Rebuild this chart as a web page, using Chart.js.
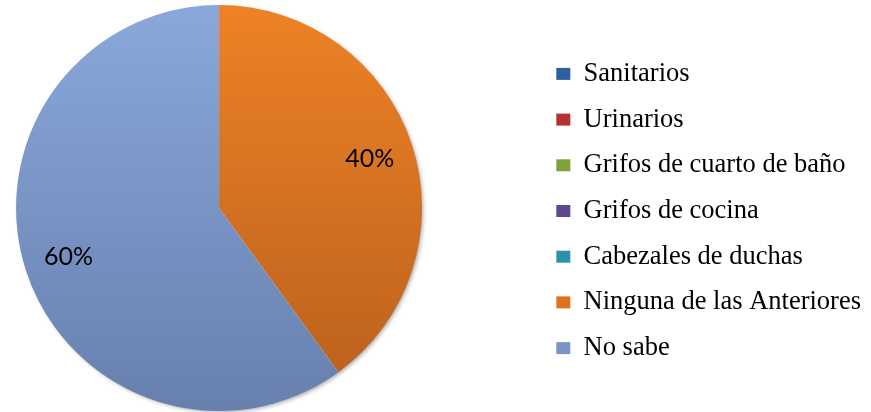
<!DOCTYPE html>
<html>
<head>
<meta charset="utf-8">
<script src="https://cdn.jsdelivr.net/npm/chart.js@4"></script>
<style>
  html, body { margin: 0; padding: 0; background: #fff; }
  #wrap { width: 871px; height: 412px; }
</style>
</head>
<body>
<div id="wrap"><canvas id="fixturesChart" width="871" height="412"></canvas></div>
<script>
  // Categories and answers (percent)
  const categories = [
    "Sanitarios",
    "Urinarios",
    "Grifos de cuarto de baño",
    "Grifos de cocina",
    "Cabezales de duchas",
    "Ninguna de las Anteriores",
    "No sabe"
  ];
  const answers = [0, 0, 0, 0, 0, 40, 60];

  // slice gradient stops (top -> bottom) and flat legend colours
  const topColors = ["#4a7cc0", "#cf4b48", "#9dc45a", "#8062a8", "#4bb3cc", "#ee8226", "#8aa8db"];
  const bottomColors = ["#24508e", "#9c2626", "#6a8f2c", "#553d82", "#1f8196", "#b85f1c", "#6780ae"];
  const legendColors = ["#2f5f9f", "#b23131", "#7ba23b", "#5f4791", "#2a93a9", "#e0711f", "#7a95c5"];

  const LEGEND_GAP = 115;

  function sliceFill(ctx) {
    const area = ctx.chart.chartArea;
    const i = ctx.dataIndex;
    if (!area) return topColors[i];
    const g = ctx.chart.ctx.createLinearGradient(0, area.top, 0, area.bottom);
    g.addColorStop(0, topColors[i]);
    g.addColorStop(1, bottomColors[i]);
    return g;
  }

  // reserve empty space between pie and legend, then draw the legend at its right end
  const legendGap = {
    id: "legendGap",
    afterInit(chart) {
      const legend = chart.legend;
      const fit = legend.fit;
      legend.fit = function () {
        fit.call(this);
        this.width += LEGEND_GAP;
      };
    },
    afterLayout(chart) {
      chart.legend.left += LEGEND_GAP;
    }
  };

  // soft shadow under the pie
  const pieShadow = {
    id: "pieShadow",
    beforeDatasetsDraw(chart) {
      const arc = chart.getDatasetMeta(0).data[0];
      if (!arc) return;
      const { x, y, outerRadius } = arc.getProps(["x", "y", "outerRadius"], true);
      const c = chart.ctx;
      c.save();
      c.shadowColor = "rgba(0,0,0,0.35)";
      c.shadowBlur = 4;
      c.shadowOffsetX = 2;
      c.shadowOffsetY = 2;
      c.fillStyle = "#fff";
      c.beginPath();
      c.arc(x, y, outerRadius - 1, 0, Math.PI * 2);
      c.fill();
      c.restore();
    }
  };

  // percentage text inside each non-empty slice
  const sliceLabels = {
    id: "sliceLabels",
    afterDatasetsDraw(chart) {
      const c = chart.ctx;
      const meta = chart.getDatasetMeta(0);
      c.save();
      c.font = "25px Lato";
      c.fillStyle = "#000";
      c.textAlign = "center";
      c.textBaseline = "middle";
      meta.data.forEach((arc, i) => {
        if (!answers[i]) return;
        const p = arc.getProps(["x", "y", "startAngle", "endAngle", "outerRadius"], true);
        const mid = (p.startAngle + p.endAngle) / 2;
        const r = p.outerRadius * 0.78;
        c.fillText(answers[i] + "%", p.x + Math.cos(mid) * r, p.y + Math.sin(mid) * r);
      });
      c.restore();
    }
  };

  new Chart(document.getElementById("fixturesChart"), {
    type: "pie",
    data: {
      labels: categories,
      datasets: [{
        data: answers,
        backgroundColor: sliceFill,
        borderWidth: 0
      }]
    },
    options: {
      responsive: false,
      animation: false,
      layout: {
        padding: { top: 5, bottom: 1, left: 16, right: 0 }
      },
      plugins: {
        tooltip: { enabled: false },
        legend: {
          position: "right",
          title: { display: true, text: "", padding: 0, font: { size: 5, lineHeight: 1.2 } },
          labels: {
            color: "#000",
            font: { family: "'Liberation Serif', 'Times New Roman', serif", size: 26.5 },
            boxWidth: 14,
            boxHeight: 12,
            padding: 19.2,
            generateLabels(chart) {
              return categories.map((text, i) => ({
                text,
                fillStyle: legendColors[i],
                strokeStyle: legendColors[i],
                fontColor: "#000",
                lineWidth: 0,
                hidden: false,
                index: i
              }));
            }
          }
        }
      }
    },
    plugins: [legendGap, pieShadow, sliceLabels]
  });
</script>
</body>
</html>
